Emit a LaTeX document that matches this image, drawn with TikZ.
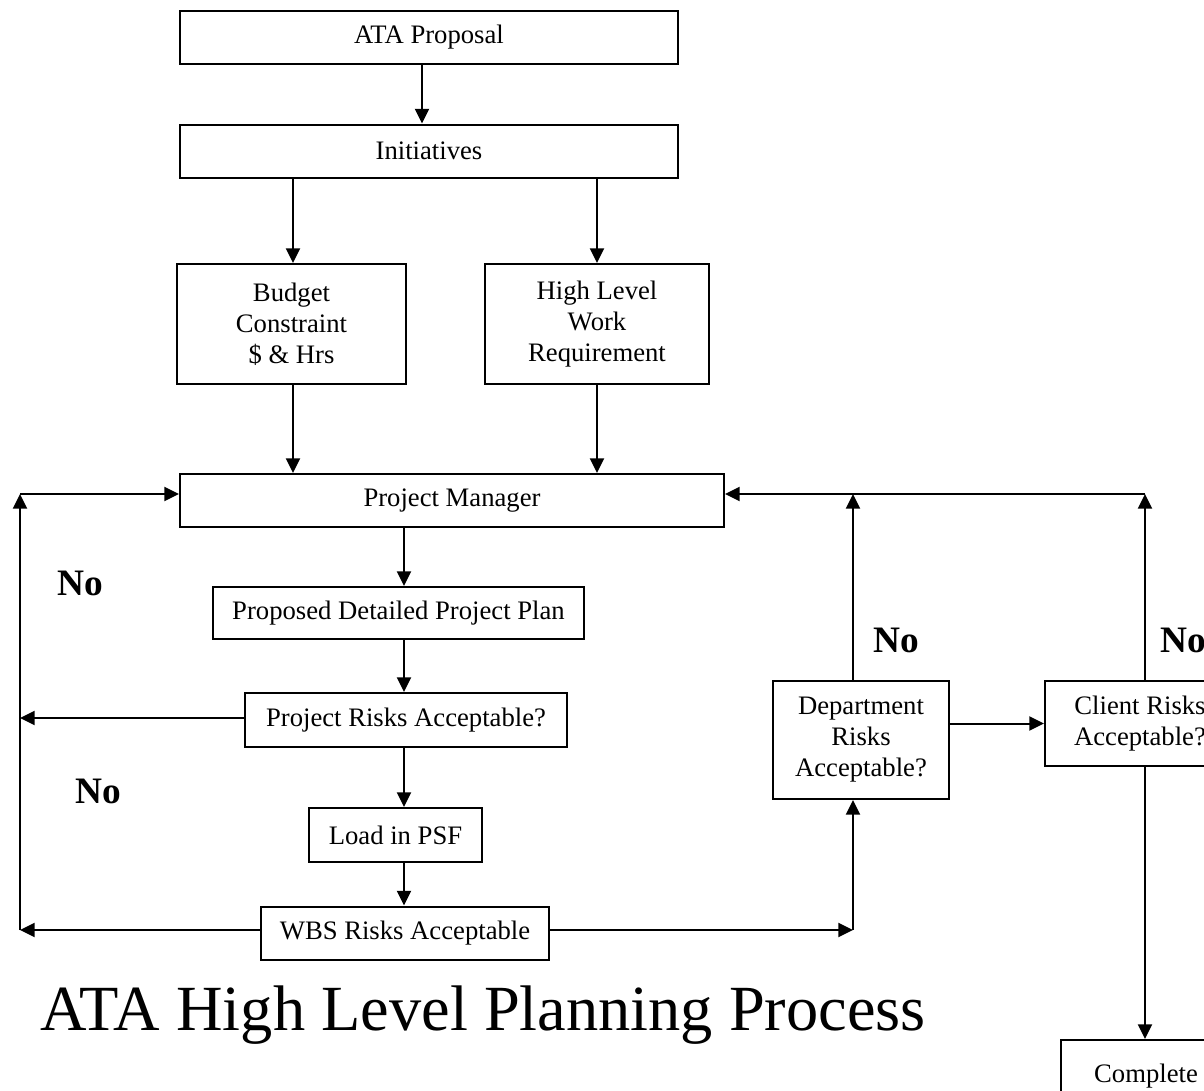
\documentclass[tikz,border=0pt]{standalone}
\usepackage{fontspec}
\setmainfont{Liberation Serif}
\usetikzlibrary{arrows.meta}
\newlength\pu
\setlength\pu{0.75pt}
\tikzset{
  flowbox/.style={draw, line width=1.5pt, rectangle, inner sep=0pt, align=center,
    font=\fontsize{20}{23.2}\selectfont},
  arr/.style={line width=1.5pt, -{Triangle[length=11pt,width=10.5pt]}},
  nolabel/.style={anchor=base west, inner sep=0pt, font=\fontsize{28}{32}\selectfont\bfseries},
  titlelabel/.style={anchor=base west, inner sep=0pt, font=\fontsize{48.3}{54}\selectfont}
}
\begin{document}
\begin{tikzpicture}[x=0.75pt, y=-0.75pt]
\useasboundingbox (0,0) rectangle (1204,1090);
\clip (0,0) rectangle (1204,1090);
\fill[white] (0,0) rectangle (1204,1090);

% column and row guides for the connectors
\coordinate (cA) at (422,0);
\coordinate (cB) at (293,0);
\coordinate (cC) at (597,0);
\coordinate (cM) at (404,0);
\coordinate (cD) at (853,0);
\coordinate (cE) at (1145,0);
\coordinate (lt) at (20,494);
\coordinate (rt) at (1145,494);
\coordinate (rowP) at (0,718);
\coordinate (rowW) at (0,930);

% boxes
\node[flowbox, minimum width=498\pu, minimum height=53\pu] (ata) at (429,37) {ATA Proposal};
\node[flowbox, minimum width=498\pu, minimum height=53\pu] (init) at (429,151) {Initiatives};
\node[flowbox, minimum width=229\pu, minimum height=120\pu] (budget) at (291.5,324) {Budget\\Constraint\\\$ \& Hrs};
\node[flowbox, minimum width=224\pu, minimum height=120\pu] (hl) at (597,324) {High Level\\Work\\Requirement};
\node[flowbox, minimum width=544\pu, minimum height=53\pu] (pm) at (452,500.5) {Project Manager};
\node[flowbox, minimum width=371\pu, minimum height=52\pu] (pdpp) at (398.5,613) {Proposed Detailed Project Plan};
\node[flowbox, minimum width=322\pu, minimum height=54\pu] (prisk) at (406,720) {Project Risks Acceptable?};
\node[flowbox, minimum width=173\pu, minimum height=54\pu] (psf) at (395.5,835) {Load in PSF};
\node[flowbox, minimum width=288\pu, minimum height=53\pu] (wbs) at (405,933) {WBS Risks Acceptable};
\node[flowbox, minimum width=176\pu, minimum height=118\pu] (dept) at (861,740) {Department\\Risks\\Acceptable?};
\node[flowbox, minimum width=190\pu, minimum height=85\pu] (client) at (1140,723.5) {Client Risks\\Acceptable?};
\node[flowbox, minimum width=170\pu, minimum height=72\pu] (complete) at (1146,1076) {Complete};

% main downward flow
\draw[arr] (ata.south -| cA) -- (init.north -| cA);
\draw[arr] (init.south -| cB) -- (budget.north -| cB);
\draw[arr] (init.south -| cC) -- (hl.north -| cC);
\draw[arr] (budget.south -| cB) -- (pm.north -| cB);
\draw[arr] (hl.south -| cC) -- (pm.north -| cC);
\draw[arr] (pm.south -| cM) -- (pdpp.north -| cM);
\draw[arr] (pdpp.south -| cM) -- (prisk.north -| cM);
\draw[arr] (prisk.south -| cM) -- (psf.north -| cM);
\draw[arr] (psf.south -| cM) -- (wbs.north -| cM);

% left return path
\draw[arr] (prisk.west |- rowP) -- (lt |- rowP);
\draw[arr] (wbs.west |- rowW) -- (lt |- rowW);
\draw[arr] (lt |- rowW) -- (lt);
\draw[arr] (lt) -- (pm.west |- lt);

% right side checks
\draw[arr] (wbs.east |- rowW) -- (cD |- rowW);
\draw[arr] (cD |- rowW) -- (dept.south -| cD);
\draw[arr] (dept.north -| cD) -- (cD |- rt);
\draw[arr] (client.west -| dept.east) -- (client.west);
\draw[arr] (client.north -| cE) -- (rt);
\draw[arr] (rt) -- (pm.east |- rt);
\draw[arr] (client.south -| cE) -- (complete.north -| cE);

% decision labels
\node[nolabel] (no1) at (57,595) {No};
\node[nolabel] (no2) at (75,803) {No};
\node[nolabel] (no3) at (873,652) {No};
\node[nolabel] (no4) at (1160,652) {No};

% title
\node[titlelabel] (title) at (40,1030) {ATA High Level Planning Process};
\end{tikzpicture}
\end{document}
